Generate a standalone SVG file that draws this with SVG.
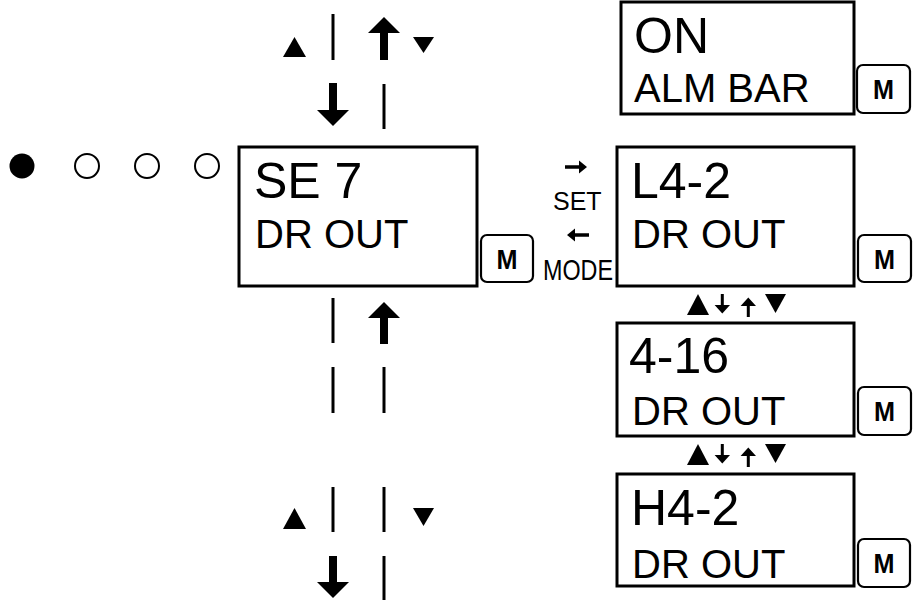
<svg xmlns="http://www.w3.org/2000/svg" width="918" height="600" viewBox="0 0 918 600">
<defs>
<style>
.box{fill:#fff;stroke:#000;stroke-width:3}
.btn{fill:#fff;stroke:#000;stroke-width:2.2}
.big{font-family:"Liberation Sans",Arial,sans-serif;font-size:50px;fill:#000}
.mid{font-family:"Liberation Sans",Arial,sans-serif;font-size:40px;fill:#000}
.m{font-family:"Liberation Sans",Arial,sans-serif;font-size:27px;font-weight:bold;fill:#000;text-anchor:middle}
.lbl{font-family:"Liberation Sans",Arial,sans-serif;font-size:25px;fill:#000}
.ln{stroke:#000;stroke-width:3;fill:none}
.sym{fill:#000}
.dot{fill:#fff;stroke:#000;stroke-width:2}
</style>
<g id="arrowrow">
<polygon class="sym" points="687,315 709,315 698,294"/>
<path class="sym" d="M720.8,294 h3 v11 h6.2 l-7.7,8.5 l-7.7,-8.5 h6.2 z"/>
<path class="sym" d="M746.8,317 h3 v-11 h6.2 l-7.7,-8.5 l-7.7,8.5 h6.2 z"/>
<polygon class="sym" points="765,294 786,294 775.5,313"/>
</g>
</defs>

<g id="indicators">
<circle cx="22" cy="166" r="12.5" fill="#000"/>
<circle class="dot" cx="87" cy="166" r="12"/>
<circle class="dot" cx="147" cy="166" r="12"/>
<circle class="dot" cx="207" cy="166" r="12"/>
</g>

<g id="node-se7">
<rect class="box" x="239" y="147" width="238" height="139"/>
<text class="big" x="254" y="198">SE 7</text>
<text class="mid" x="255" y="248">DR OUT</text>
<rect class="btn" x="481" y="235" width="52" height="47" rx="6"/>
<text class="m" x="507" y="269" textLength="21" lengthAdjust="spacingAndGlyphs">M</text>
</g>

<g id="node-on">
<rect class="box" x="621" y="2" width="233" height="112"/>
<text class="big" x="634" y="53">ON</text>
<text class="mid" x="634" y="102">ALM BAR</text>
<rect class="btn" x="857" y="65" width="53" height="48" rx="6"/>
<text class="m" x="883.5" y="99" textLength="21" lengthAdjust="spacingAndGlyphs">M</text>
</g>

<g id="node-l42">
<rect class="box" x="617" y="147" width="237" height="139"/>
<text class="big" x="631" y="198">L4-2</text>
<text class="mid" x="632" y="248">DR OUT</text>
<rect class="btn" x="858" y="235" width="53" height="47" rx="6"/>
<text class="m" x="884.5" y="269" textLength="21" lengthAdjust="spacingAndGlyphs">M</text>
</g>

<g id="node-416">
<rect class="box" x="617" y="323" width="237" height="113"/>
<text class="big" x="629" y="373">4-16</text>
<text class="mid" x="632" y="425">DR OUT</text>
<rect class="btn" x="858" y="387" width="53" height="48" rx="6"/>
<text class="m" x="884.5" y="421" textLength="21" lengthAdjust="spacingAndGlyphs">M</text>
</g>

<g id="node-h42">
<rect class="box" x="617" y="474" width="237" height="112"/>
<text class="big" x="631" y="525">H4-2</text>
<text class="mid" x="632" y="578">DR OUT</text>
<rect class="btn" x="858" y="539" width="52" height="48" rx="6"/>
<text class="m" x="884" y="573" textLength="21" lengthAdjust="spacingAndGlyphs">M</text>
</g>

<g id="connectors">
<!-- SET / MODE between SE7 and L4-2 -->
<path class="sym" d="M565,165.2 h14 v-4.7 l8,6.5 l-8,6.5 v-4.7 h-14 z"/>
<text class="lbl" x="553" y="210">SET</text>
<path class="sym" d="M589,233.2 h-14 v-4.7 l-8,6.5 l8,6.5 v-4.7 h14 z"/>
<text class="lbl" x="543" y="280" style="font-size:29px" textLength="70" lengthAdjust="spacingAndGlyphs">MODE</text>

<!-- top column -->
<polygon class="sym" points="283,57 306,57 294.5,37"/>
<line class="ln" x1="333" y1="14" x2="333" y2="60"/>
<polygon class="sym" points="384,17 400,33 388,33 388,60 380,60 380,33 368,33"/>
<polygon class="sym" points="413,37 434,37 423.5,53"/>
<polygon class="sym" points="329,83 337,83 337,110 349,110 333,126 317,110 329,110"/>
<line class="ln" x1="384" y1="84" x2="384" y2="129"/>

<!-- middle column -->
<line class="ln" x1="333" y1="298" x2="333" y2="343"/>
<polygon class="sym" points="384,302 400,318 388,318 388,344 380,344 380,318 368,318"/>
<line class="ln" x1="333" y1="367" x2="333" y2="413"/>
<line class="ln" x1="384" y1="367" x2="384" y2="413"/>

<!-- bottom column -->
<polygon class="sym" points="283,529 306,529 294.5,508"/>
<line class="ln" x1="333" y1="487" x2="333" y2="532"/>
<line class="ln" x1="384" y1="487" x2="384" y2="532"/>
<polygon class="sym" points="413,508 434,508 423.5,526"/>
<polygon class="sym" points="329,556 337,556 337,582 349,582 333,598 317,582 329,582"/>
<line class="ln" x1="384" y1="556" x2="384" y2="600"/>

<!-- right column arrow rows -->
<use href="#arrowrow"/>
<use href="#arrowrow" y="150"/>
</g>
</svg>
